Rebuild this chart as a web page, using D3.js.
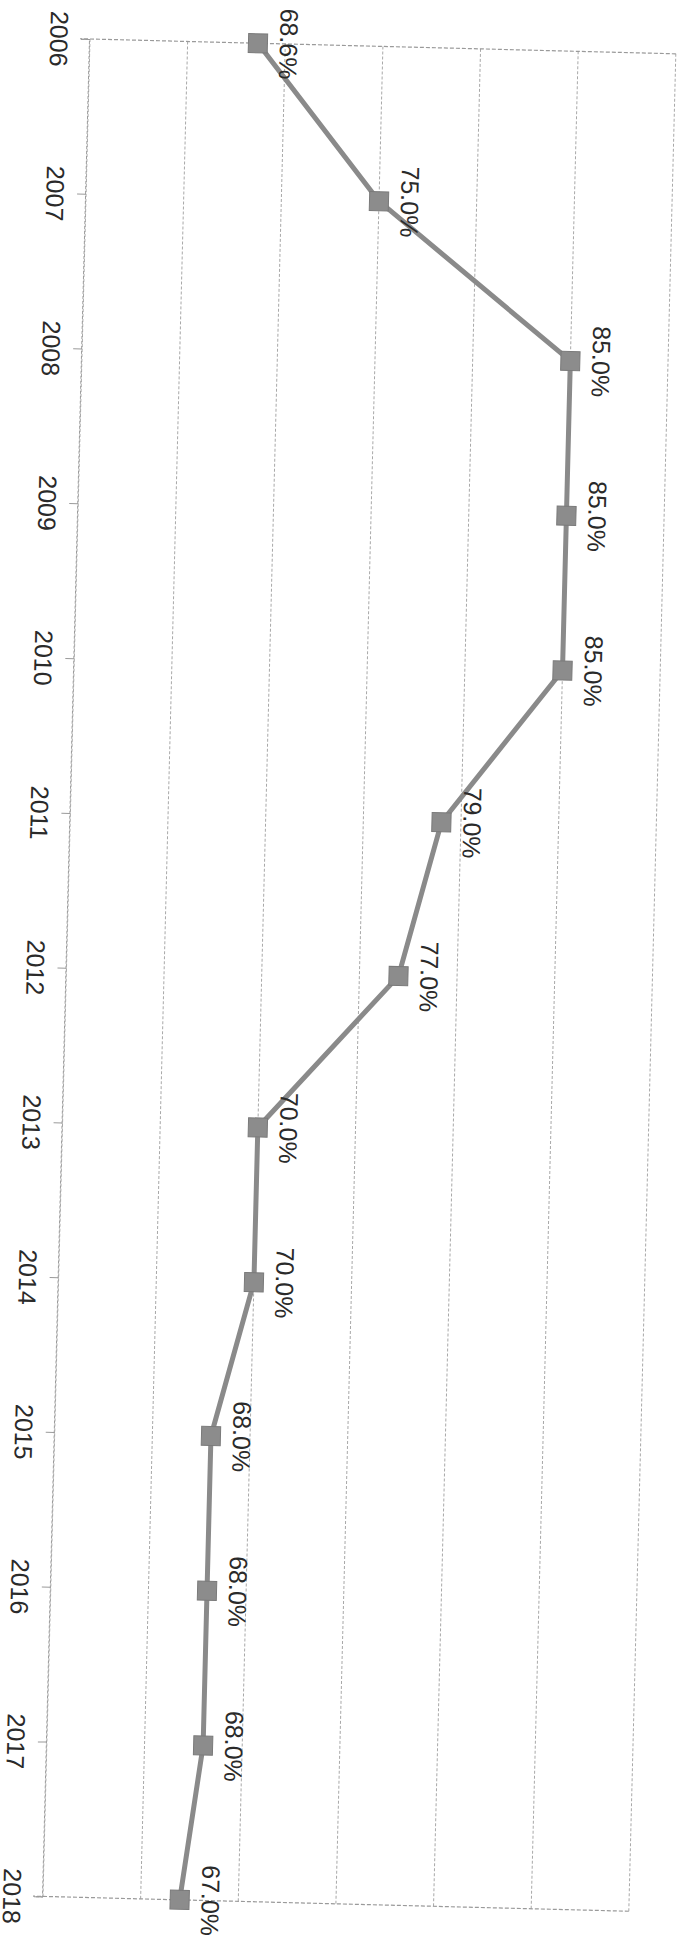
<!DOCTYPE html>
<html>
<head>
<meta charset="utf-8">
<script src="https://cdn.jsdelivr.net/npm/d3@7"></script>
<style>
  html, body { margin: 0; padding: 0; background: #ffffff; }
  svg { display: block; }
</style>
</head>
<body>
<div id="chart"></div>
<script>
// ---- data ----
const years = ["2006","2007","2008","2009","2010","2011","2012","2013","2014","2015","2016","2017","2018"];
const values = [68.6, 75.0, 85.0, 85.0, 85.0, 79.0, 77.0, 70.0, 70.0, 68.0, 68.0, 68.0, 67.0];
const valueTicks = [60, 65, 70, 75, 80, 85, 90];

// ---- layout ----
const width = 684, height = 1940;
const plotLen = 1858;   // along the year axis
const plotDepth = 586;  // along the value axis
const skew = 1.45;      // scan tilt in degrees

const svg = d3.select("#chart").append("svg")
  .attr("width", width).attr("height", height);
svg.append("rect").attr("width", width).attr("height", height).attr("fill", "#ffffff");

// chart drawn in normal orientation, then turned a quarter clockwise (as scanned)
const g = svg.append("g")
  .attr("transform", `translate(90,39) rotate(${skew}) translate(${plotDepth},0) rotate(90)`);

const x = d3.scalePoint().domain(years).range([0, plotLen]);
const y = d3.scaleLinear().domain([60, 90]).range([plotDepth, 0]);

// gridlines
g.append("g").selectAll("line").data(valueTicks).join("line")
  .attr("x1", 0).attr("x2", plotLen)
  .attr("y1", d => y(d)).attr("y2", d => y(d))
  .attr("stroke", "#a8a8a8").attr("stroke-width", 1)
  .attr("stroke-dasharray", "3,2");

// plot border ends (first and last category)
g.append("g").selectAll("line").data([years[0], years[years.length - 1]]).join("line")
  .attr("x1", d => x(d)).attr("x2", d => x(d))
  .attr("y1", y(90)).attr("y2", y(60) + 10)
  .attr("stroke", "#9a9a9a").attr("stroke-width", 1.2)
  .attr("stroke-dasharray", "4,2");

// category axis
const axis = g.append("g")
  .attr("transform", `translate(0,${plotDepth})`)
  .call(d3.axisBottom(x).tickSize(9).tickPadding(13));
axis.select(".domain").attr("stroke", "#9a9a9a").attr("stroke-dasharray", "3,2");
axis.selectAll(".tick line").attr("stroke", "#9a9a9a");
axis.selectAll(".tick text")
  .attr("fill", "#2a2a2a")
  .style("font-family", "'Liberation Sans', Arial, sans-serif")
  .style("font-size", "25px");

// series line
const pts = years.map((yr, i) => ({ yr, v: values[i] }));
g.append("path").datum(pts)
  .attr("fill", "none")
  .attr("stroke", "#8a8a8a")
  .attr("stroke-width", 5)
  .attr("stroke-linejoin", "round")
  .attr("d", d3.line().x(d => x(d.yr)).y(d => y(d.v)));

// markers
const ms = 19;
g.append("g").selectAll("rect").data(pts).join("rect")
  .attr("x", d => x(d.yr) - ms / 2)
  .attr("y", d => y(d.v) - ms / 2)
  .attr("width", ms).attr("height", ms)
  .attr("fill", "#8c8c8c")
  .attr("stroke", "#7a7a7a").attr("stroke-width", 1);

// data labels
const fmt = d3.format(".1f");
g.append("g").selectAll("text").data(pts).join("text")
  .attr("x", d => x(d.yr))
  .attr("y", d => y(d.v) - 22)
  .attr("text-anchor", "middle")
  .attr("fill", "#2a2a2a")
  .style("font-family", "'Liberation Sans', Arial, sans-serif")
  .style("font-size", "25px")
  .text(d => fmt(d.v) + "%");
</script>
</body>
</html>
